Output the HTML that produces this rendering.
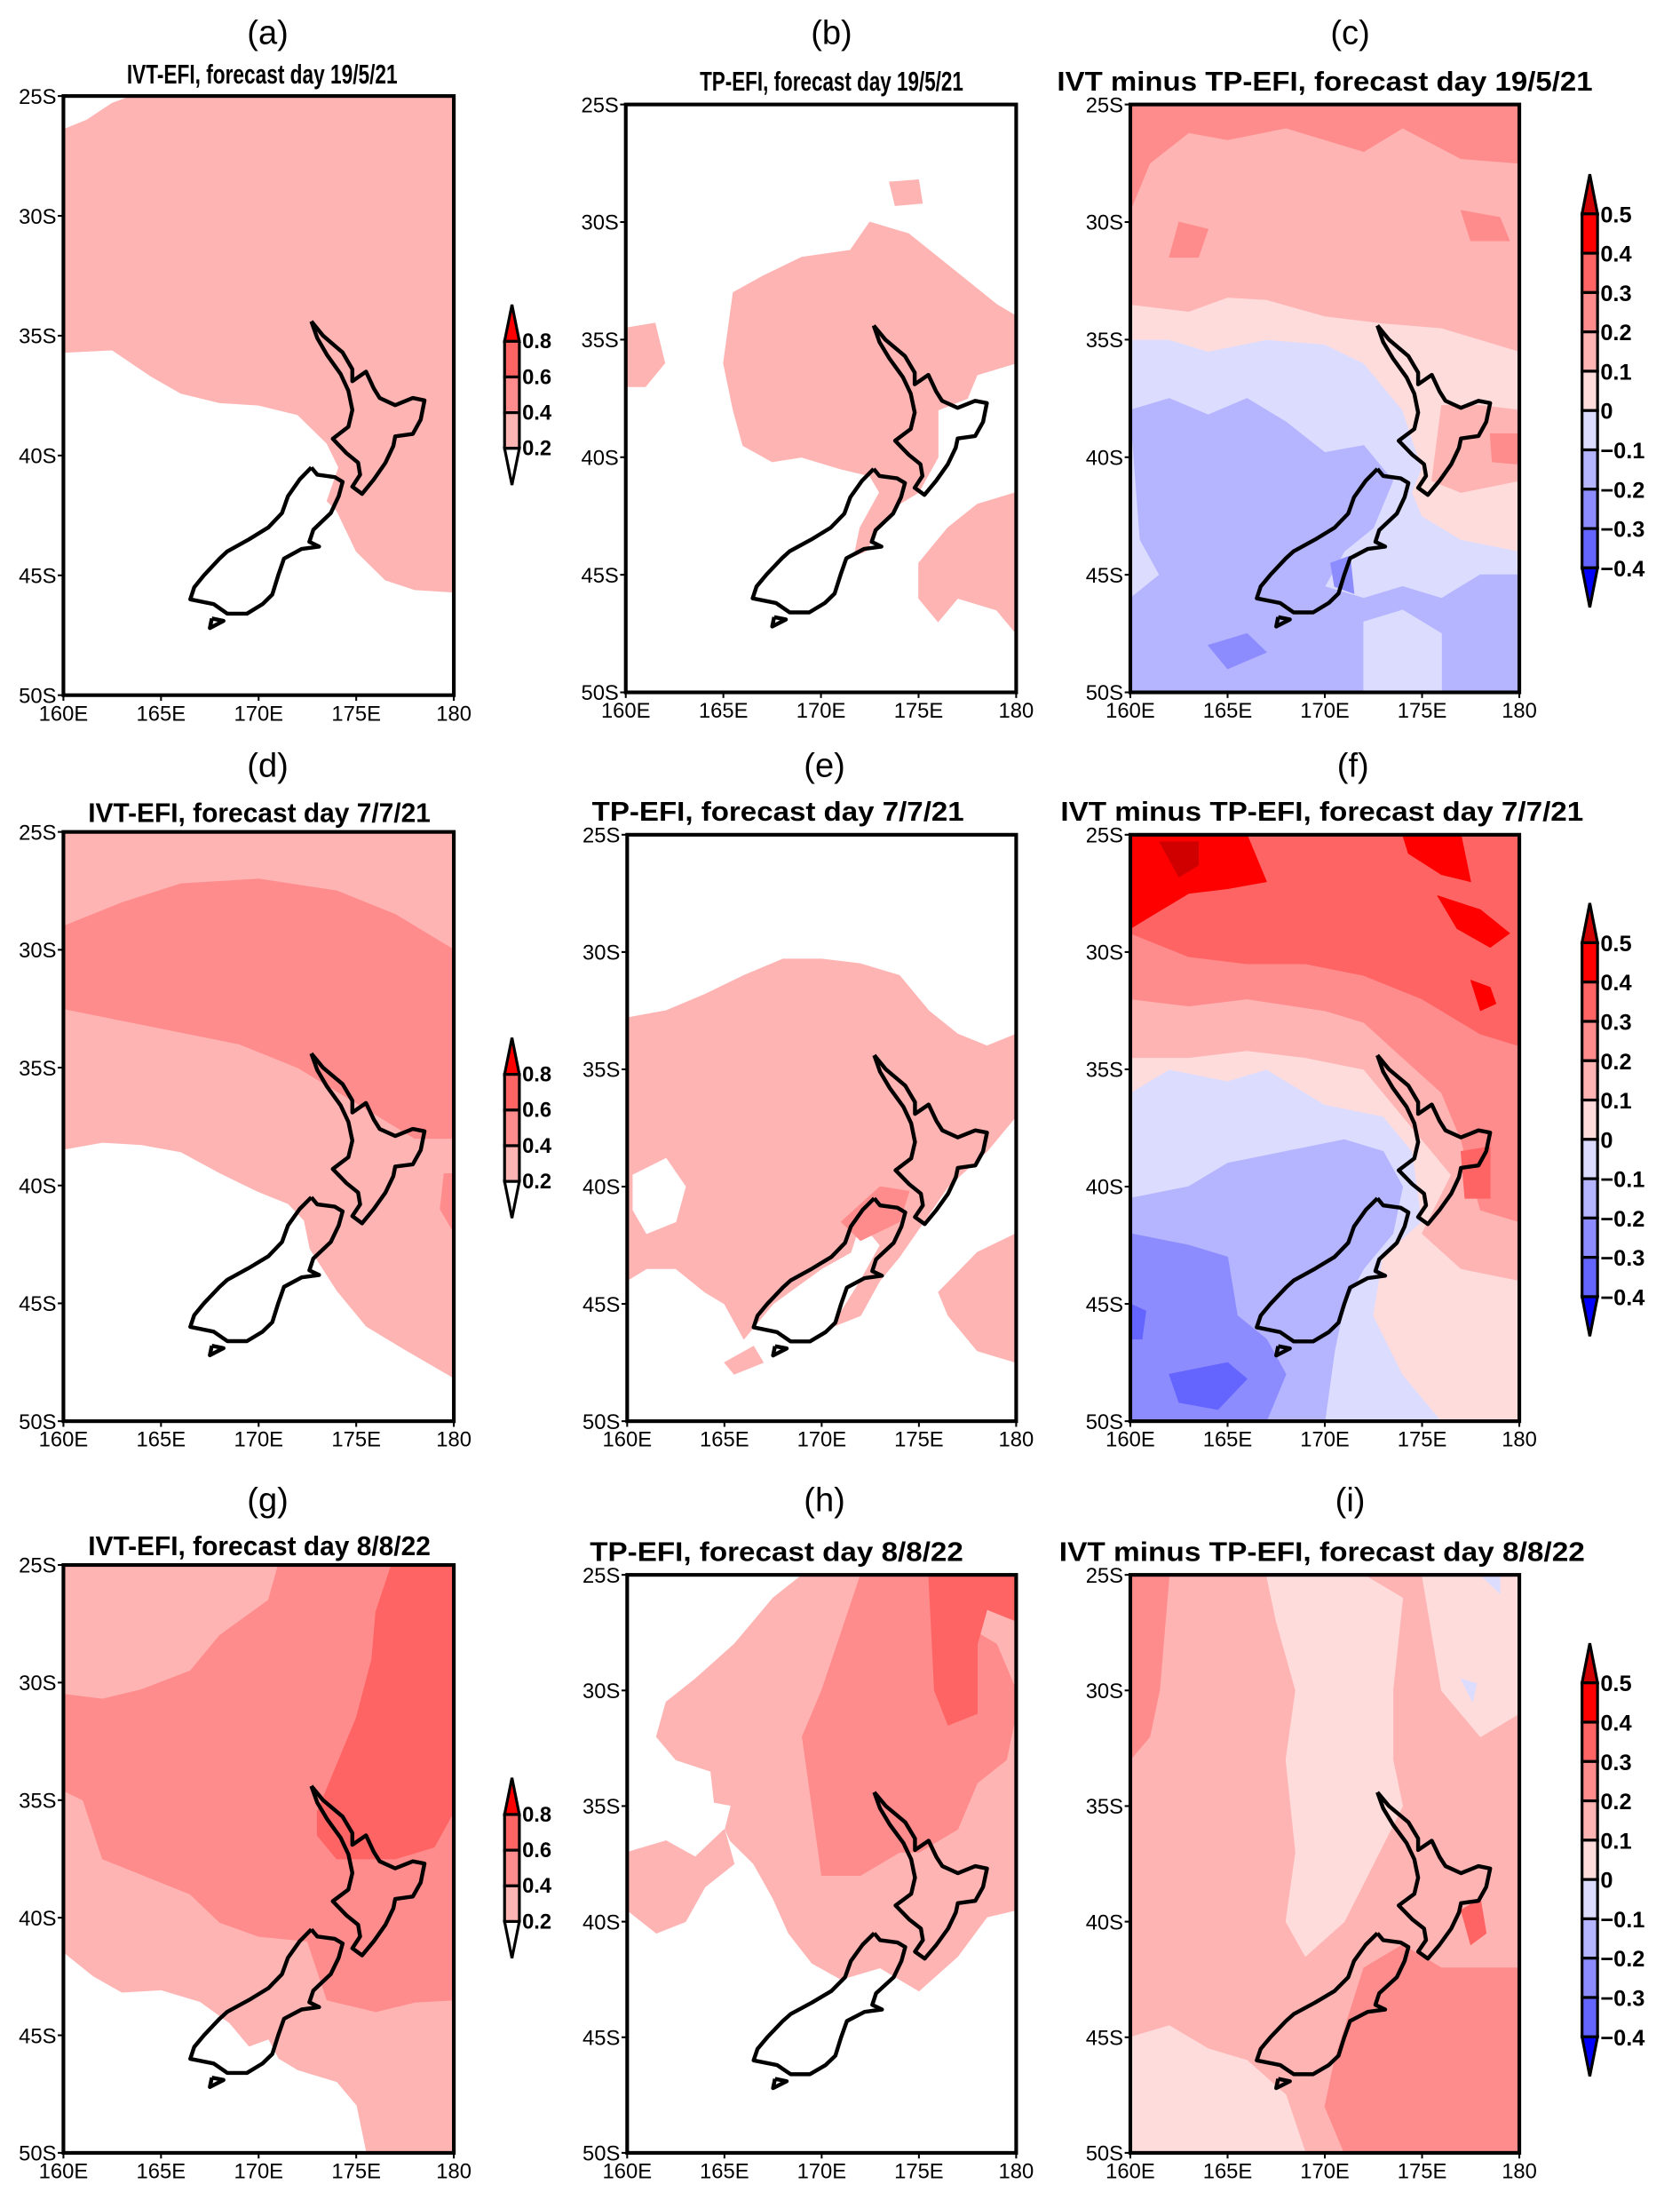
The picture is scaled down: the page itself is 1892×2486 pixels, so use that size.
<!DOCTYPE html>
<html><head><meta charset="utf-8">
<style>
html,body{margin:0;padding:0;background:#fff;}
svg{display:block;}
text{font-family:"Liberation Sans",sans-serif;}
</style></head>
<body>
<svg id="fig" xmlns="http://www.w3.org/2000/svg" width="1892" height="2486" viewBox="0 0 1192 1566">
<rect x="0" y="0" width="1192" height="1566" fill="#fff"/>
</svg>
<script>
// ---- data: colour levels ----
const efiLevels = ["0.8","0.6","0.4","0.2"];
const diffLevels = ["0.5","0.4","0.3","0.2","0.1","0","\u22120.1","\u22120.2","\u22120.3","\u22120.4"];
const latTicks = [25,30,35,40,45,50];
const lonTicks = [160,165,170,175,180];
const latTickLabels = ["25S","30S","35S","40S","45S","50S"];
const lonTickLabels = ["160E","165E","170E","175E","180"];
const C = {E1:"#ffb4b4",E2:"#ff8c8c",E3:"#ff6464",R4:"#ff0000",R5:"#d00000",D1:"#ffdcdc",B1:"#dcdcff",B2:"#b4b4ff",B3:"#8c8cff",B4:"#6464ff",W:"#ffffff"};
const FULL = [[160,25],[180,25],[180,50],[160,50]];

// NZ coastline (lon, lat south)
const northIsland = [[172.7,34.4],[173.3,35.0],[174.3,35.7],[174.8,36.4],[174.8,36.9],[175.5,36.5],[175.9,37.2],[176.2,37.6],[177.0,37.9],[177.9,37.6],[178.5,37.7],[178.3,38.5],[177.9,39.1],[177.0,39.2],[176.9,39.6],[176.5,40.3],[175.9,41.0],[175.3,41.6],[174.8,41.3],[175.2,40.8],[175.1,40.3],[174.5,39.9],[173.8,39.3],[174.6,38.8],[174.8,38.1],[174.6,37.3],[174.2,36.6],[173.5,35.8],[173.0,35.1],[172.7,34.4]];
const southIsland = [[172.7,40.5],[173.0,40.8],[173.9,40.9],[174.3,41.1],[174.1,41.7],[173.7,42.4],[172.8,43.1],[172.6,43.6],[173.1,43.8],[172.2,43.9],[171.3,44.3],[171.0,45.0],[170.7,45.8],[170.2,46.2],[169.4,46.6],[168.4,46.6],[167.7,46.2],[166.5,46.0],[166.7,45.5],[167.2,45.0],[168.0,44.3],[168.4,44.0],[169.5,43.5],[170.5,43.0],[171.2,42.4],[171.5,41.7],[172.1,41.0],[172.7,40.5]];
const stewartIsland = [[167.6,46.8],[168.2,46.9],[167.5,47.2],[167.6,46.8]];

// ---- panel field layers [colour, polygon] ----
const fieldA = [["E1",[[160,26.4],[161.2,26],[162.5,25.3],[163.5,25],[180,25],[180,45.7],[178,45.6],[176.5,45.2],[175,44],[174,42.3],[173.5,41.9],[174.1,40.5],[173.5,39.5],[172,38.3],[170,37.9],[168,37.8],[166,37.4],[164.5,36.7],[162.5,35.6],[160,35.7]]]];
const fieldB = [
 ["E1",[[165.5,33],[167,32.3],[169,31.5],[171.5,31.2],[172.5,30],[174.5,30.5],[176,31.5],[177.5,32.5],[179,33.5],[180,34],[180,36],[178,36.5],[177.5,37.5],[176,38],[176,40],[175,41.5],[174,42],[173,43],[172.3,44],[171.7,44.2],[172,43],[173,41.5],[172.5,40.8],[171,40.5],[169,40],[167.5,40.2],[166,39.5],[165.5,38],[165,36]]],
 ["E1",[[175,44.5],[176.5,43],[178,42],[180,41.5],[180,47.5],[179,46.5],[177,46],[176,47],[175,46]]],
 ["E1",[[160,34.5],[161.5,34.3],[162,36],[161,37],[160,37]]],
 ["E1",[[173.5,28.3],[175,28.2],[175.2,29.2],[173.8,29.3]]]];
const fieldC = [
 ["B1",FULL],
 ["D1",[[160,25],[180,25],[180,44],[177,43.5],[175,42.5],[174.5,41.5],[175,40.5],[174,38],[172,36],[170,35.2],[167,35],[164,35.5],[162,35],[160,35]]],
 ["E1",[[160,25],[180,25],[180,35.5],[178,35],[176,34.5],[173,34.3],[170,34],[167,33.3],[165,33.2],[163,33.8],[160,33.5]]],
 ["E1",[[176,37.8],[178,37.8],[180,38],[180,41],[177,41.5],[175.5,41]]],
 ["E2",[[160,25],[180,25],[180,27.5],[177,27.3],[174,26],[172,27],[168,26],[165,26.5],[163,26.2],[161,27.5],[160,29.5]]],
 ["E2",[[162.5,30],[164,30.3],[163.5,31.5],[162,31.5]]],
 ["E2",[[177,29.5],[179,29.8],[179.5,30.8],[177.5,30.8]]],
 ["E2",[[178.5,39],[180,39],[180,40.3],[178.6,40.2]]],
 ["B2",[[160,38],[162,37.5],[164,38.2],[166,37.5],[168,38.5],[170,39.8],[172,39.5],[173.5,41],[172.5,43],[171,44],[170,45.5],[172,46],[174,45.5],[176,46],[178,45],[180,45],[180,50],[160,50],[160,46],[161.5,45],[160.5,43.5]]],
 ["B1",[[172,47],[174,46.5],[176,47.5],[176,50],[172,50]]],
 ["B3",[[164,48],[166,47.5],[167,48.3],[165,49]]],
 ["B3",[[170.3,44.5],[171.3,44.2],[171.5,45.8],[170.5,45.5]]]];
const fieldD = [
 ["E1",FULL],
 ["W",[[160,38.5],[162,38.2],[164,38.3],[166,38.6],[168,39.5],[170,40.3],[171.5,40.8],[172.3,41.5],[172.6,42.7],[174,44.5],[175.5,46],[177.5,47],[180,48.2],[180,50],[160,50]]],
 ["E2",[[160,29],[163,28],[166,27.2],[170,27],[174,27.5],[177,28.5],[180,30],[180,38],[178,38],[176,37],[174,36],[172,35],[169,34],[166,33.5],[163,33],[160,32.5]]],
 ["E2",[[179.5,39.5],[180,39.5],[180,42],[179.3,41]]]];
const fieldE = [
 ["E1",[[160,32.8],[162,32.5],[164,31.8],[166,31],[168,30.3],[170,30.3],[172,30.5],[174,31],[175.5,32.5],[177,33.5],[178.5,34],[180,33.5],[180,37],[178.5,38.5],[176.5,40],[175,41.8],[174,43],[173,44],[172,45.5],[170.5,46],[172,44],[173,42.5],[172,41.5],[171.5,42.8],[170,43.5],[167.5,45],[166,46.5],[165,45],[164,44.5],[162.5,43.5],[161,43.5],[160,44]]],
 ["W",[[160.3,39.5],[162,38.8],[163,40],[162.5,41.5],[161,42],[160.3,41]]],
 ["E1",[[176,44.5],[178,42.8],[180,42],[180,47.5],[178,47],[176.5,45.5]]],
 ["E1",[[165,47.5],[166.5,46.8],[167,47.5],[165.5,48]]],
 ["E2",[[171,41.5],[173,40],[174.5,40.2],[174,41.5],[172,42.3]]]];
const fieldF = [
 ["B1",FULL],
 ["D1",[[160,25],[180,25],[180,50],[176,50],[174,48],[172.5,45.5],[173,43],[175,41.5],[174.5,38.5],[173,37],[170,36.5],[167,35],[165,35.5],[162,35],[160,36]]],
 ["E1",[[160,25],[180,25],[180,44],[177,43.5],[175,42],[176.5,39.5],[174,37],[172,35],[169,34.5],[166,34.2],[163,34.5],[160,34.5]]],
 ["E2",[[160,25],[180,25],[180,41.5],[178,41],[177,38],[176,36],[174,34.5],[172,33],[170,32.5],[166,32],[163,32.3],[160,32]]],
 ["E3",[[160,25],[180,25],[180,34],[178,33.5],[175,32],[172,31],[169,30.5],[166,30.5],[163,30.2],[160,29.2]]],
 ["E3",[[177,38.5],[178.5,38.3],[178.5,40.5],[177.2,40.5]]],
 ["R4",[[160,25],[166,25],[167,27],[165,27.3],[163,27.5],[161,28.5],[160,29]]],
 ["R4",[[174,25],[177,25],[177.5,27],[176,26.7],[174.3,25.8]]],
 ["R4",[[175.8,27.6],[178,28.2],[179.5,29.2],[178.5,29.8],[176.8,29]]],
 ["R4",[[177.5,31.2],[178.5,31.5],[178.8,32.2],[178,32.5]]],
 ["R5",[[161.5,25.3],[163.5,25.3],[163.5,26.3],[162.5,26.8]]],
 ["B2",[[160,40.5],[163,40],[165,39],[168,38.5],[171,38],[173,38.5],[174,40],[173.5,42],[172,43.5],[171,45],[170.5,47],[170,50],[160,50]]],
 ["B3",[[160,42],[163,42.5],[165,43],[165.5,45.5],[167,46.5],[168,48],[167,50],[160,50]]],
 ["B4",[[162,48],[165,47.5],[166,48.2],[164.5,49.5],[162.5,49.2]]],
 ["B4",[[160,45],[160.8,45.3],[160.6,46.5],[160,46.5]]]];
const fieldG = [
 ["E1",FULL],
 ["W",[[160,41.5],[161.5,42.5],[163,43.2],[165,43.1],[167,43.6],[168.5,44.5],[169.5,45.5],[170.5,45.2],[171,46],[172,46.5],[174,47],[175,48],[175.5,50],[160,50]]],
 ["E2",[[160,30.5],[162,30.7],[164,30.3],[166.5,29.5],[168,28],[170.5,26.5],[171,25],[180,25],[180,43.5],[178,43.6],[176,44],[175,43.8],[173.5,43.5],[172.5,41],[170,40.8],[168,40.2],[166.5,39],[165,38.5],[162,37.5],[161,35],[160,34.6]]],
 ["E3",[[176.8,25],[180,25],[180,35.5],[179,37],[177,37.5],[174,37.5],[173,36.5],[173,35.5],[174,33.5],[175,31.5],[175.8,29],[176,27]]]];
const fieldH = [
 ["E1",[[169,25],[180,25],[180,39.5],[178.5,39.8],[177,41.5],[175,43],[173,42],[171,42.5],[169.5,41.8],[168.3,40.5],[167.5,39],[166.5,37.5],[165.3,36.5],[164.5,35],[164.3,33.5],[162.5,33],[161.5,32],[162,30.5],[163.5,29.5],[165.5,28],[167.5,26]]],
 ["E1",[[160,37],[162,36.5],[163.5,37.2],[165,36],[165.5,37.5],[164,38.5],[163,40],[161.5,40.5],[160,39.5]]],
 ["W",[[164,34.8],[165.3,35],[165,36],[164.2,35.8]]],
 ["E2",[[172,25],[175.5,25],[177,27],[179,28],[180,30],[180,31],[179.5,33],[178,34],[177,36],[175,37],[174,37],[172,38],[170,38],[169.5,35],[169,32],[170,30],[171,27.5]]],
 ["E3",[[175.5,25],[180,25],[180,27],[178.5,26.5],[178,28],[178,31],[176.5,31.5],[175.8,30]]]];
const fieldI = [
 ["E1",FULL],
 ["D1",[[167,25],[172,25],[174,26],[173.5,30],[173.5,33],[174,35],[172.5,37.5],[171,40],[169,41.5],[168,40],[168.5,37],[168,33],[168.5,30],[167.5,27]]],
 ["D1",[[160,45],[162,44.5],[164,45.5],[166,46],[168,47.5],[169,50],[160,50]]],
 ["D1",[[175,25],[180,25],[180,31],[178,32],[176,30]]],
 ["E2",[[160,25],[162,25],[161.5,30],[161,32],[160,33]]],
 ["E2",[[172,42],[174,41],[176,42],[180,42],[180,50],[171,50],[170,48],[170.5,46]]],
 ["E3",[[177,39.5],[178,39],[178.3,40.5],[177.5,41]]],
 ["B1",[[178,25],[179,25],[179,25.8]]],
 ["B1",[[177,29.5],[177.8,29.7],[177.6,30.5]]]];

// ---- layout ----
const panels = [
 {id:"a",x0:45,x1:322,y0:68,y1:493,title:"IVT-EFI, forecast day 19/5/21",tx:186,ty:59,tw:192,lx:190,ly:31,field:fieldA,bar:"efi",by:0},
 {id:"b",x0:444,x1:721,y0:74,y1:491,title:"TP-EFI, forecast day 19/5/21",tx:590,ty:64,tw:187,lx:590,ly:31,field:fieldB},
 {id:"c",x0:802,x1:1078,y0:74,y1:491,title:"IVT minus TP-EFI, forecast day 19/5/21",tx:940,ty:64,tw:380,lx:958,ly:31,field:fieldC,bar:"diff",by:0},
 {id:"d",x0:45,x1:322,y0:590,y1:1008,title:"IVT-EFI, forecast day 7/7/21",tx:184,ty:583,tw:243,lx:190,ly:551,field:fieldD,bar:"efi",by:520},
 {id:"e",x0:445,x1:721,y0:592,y1:1008,title:"TP-EFI, forecast day 7/7/21",tx:552,ty:582,tw:264,lx:585,ly:551,field:fieldE},
 {id:"f",x0:802,x1:1078,y0:592,y1:1008,title:"IVT minus TP-EFI, forecast day 7/7/21",tx:938,ty:582,tw:371,lx:960,ly:551,field:fieldF,bar:"diff",by:517},
 {id:"g",x0:45,x1:322,y0:1110,y1:1527,title:"IVT-EFI, forecast day 8/8/22",tx:184,ty:1103,tw:243,lx:190,ly:1072,field:fieldG,bar:"efi",by:1045},
 {id:"h",x0:445,x1:721,y0:1117,y1:1527,title:"TP-EFI, forecast day 8/8/22",tx:551,ty:1107,tw:265,lx:585,ly:1072,field:fieldH},
 {id:"i",x0:802,x1:1078,y0:1117,y1:1527,title:"IVT minus TP-EFI, forecast day 8/8/22",tx:938,ty:1107,tw:373,lx:958,ly:1072,field:fieldI,bar:"diff",by:1042}
];
const NS="http://www.w3.org/2000/svg";
const svg=document.getElementById("fig");
function mk(tag,attrs,parent){const e=document.createElementNS(NS,tag);for(const k in attrs)e.setAttribute(k,attrs[k]);(parent||svg).appendChild(e);return e;}
function pts(poly,p){return poly.map(([lo,la])=>{const x=p.x0+(lo-160)/20*(p.x1-p.x0);const y=p.y0+(la-25)/25*(p.y1-p.y0);return x.toFixed(1)+","+y.toFixed(1);}).join(" ");}

panels.forEach(p=>{
 const g=mk("g",{});
 
 
 const cp=mk("clipPath",{id:"clip"+p.id},g);
 mk("rect",{x:p.x0,y:p.y0,width:p.x1-p.x0,height:p.y1-p.y0},cp);
 const fg=mk("g",{"clip-path":"url(#clip"+p.id+")"},g);
 
 
 p.field.forEach(([col,poly])=>{
  const el=mk("polygon",{points:pts(poly,p),fill:C[col],stroke:C[col],"stroke-width":0.5,"stroke-linejoin":"round"},fg);
  
  
 });
 [northIsland,southIsland,stewartIsland].forEach((isl,k)=>{
  const el=mk("polyline",{points:pts(isl,p),fill:"none",stroke:"#000","stroke-width":2.8,"stroke-linejoin":"round"},g);
  
  
 });
 const fr=mk("rect",{x:p.x0,y:p.y0,width:p.x1-p.x0,height:p.y1-p.y0,fill:"none",stroke:"#000","stroke-width":2.6},g);
 
 
 latTicks.forEach((la,k)=>{
  const y=p.y0+(la-25)/25*(p.y1-p.y0);
  mk("line",{x1:p.x0-4,x2:p.x0,y1:y,y2:y,stroke:"#000","stroke-width":1.3},g);
  const t=mk("text",{x:p.x0-5,y:y+5.5,"font-size":15,"text-anchor":"end"},g);
  t.textContent=latTickLabels[k];
  
  
 });
 lonTicks.forEach((lo,k)=>{
  const x=p.x0+(lo-160)/20*(p.x1-p.x0);
  mk("line",{x1:x,x2:x,y1:p.y1,y2:p.y1+4,stroke:"#000","stroke-width":1.3},g);
  const t=mk("text",{x:x,y:p.y1+18,"font-size":15,"text-anchor":"middle"},g);
  t.textContent=lonTickLabels[k];
  
  
 });
 const lt=mk("text",{x:p.lx,y:p.ly,"font-size":24,"text-anchor":"middle"},g);
 lt.textContent="("+p.id+")";
 
 
 const tt=mk("text",{x:p.tx,y:p.ty,"font-size":19,"font-weight":"bold","text-anchor":"middle",textLength:p.tw,lengthAdjust:"spacingAndGlyphs"},g);
 tt.textContent=p.title;
 
 

 if(p.bar==="efi"){
  const bx=358,bw=10.5,cb=mk("g",{});
  
  
  const top=216+p.by, step=25.3, r0=242+p.by;
  mk("polygon",{points:`${bx},${r0} ${bx+bw/2},${top} ${bx+bw},${r0}`,fill:"#ff0000",stroke:"#000","stroke-width":2},cb);
  const cols=["E3","E2","E1"];
  cols.forEach((c,k)=>mk("rect",{x:bx,y:r0+k*step,width:bw,height:step,fill:C[c],stroke:"#000","stroke-width":2},cb));
  const rb=r0+3*step;
  mk("polygon",{points:`${bx},${rb} ${bx+bw/2},${rb+26} ${bx+bw},${rb}`,fill:"#fff",stroke:"#000","stroke-width":2},cb);
  efiLevels.forEach((l,k)=>{const t=mk("text",{x:bx+bw+2,y:r0+k*step+5,"font-size":15,"font-weight":"bold"},cb);t.textContent=l;
   
   });
 }
 if(p.bar==="diff"){
  const bx=1122.5,bw=11,cb=mk("g",{});
  
  
  const top=123.5+p.by, r0=151.6+p.by, step=27.9;
  mk("polygon",{points:`${bx},${r0} ${bx+bw/2},${top} ${bx+bw},${r0}`,fill:C.R5,stroke:"#000","stroke-width":2},cb);
  const cols=["R4","E3","E2","E1","D1","B1","B2","B3","B4"];
  cols.forEach((c,k)=>mk("rect",{x:bx,y:r0+k*step,width:bw,height:step,fill:C[c],stroke:"#000","stroke-width":2},cb));
  const rb=r0+9*step;
  mk("polygon",{points:`${bx},${rb} ${bx+bw/2},${rb+28} ${bx+bw},${rb}`,fill:"#0000ff",stroke:"#000","stroke-width":2},cb);
  diffLevels.forEach((l,k)=>{const t=mk("text",{x:bx+bw+2,y:r0+k*step+6,"font-size":16,"font-weight":"bold"},cb);t.textContent=l;
   
   });
 }
});
</script>
</body></html>
